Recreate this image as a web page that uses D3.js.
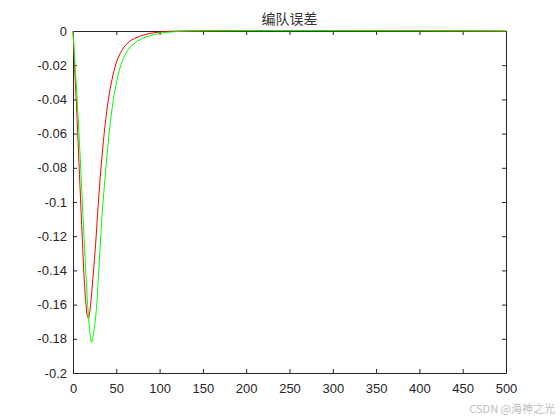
<!DOCTYPE html>
<html>
<head>
<meta charset="utf-8">
<script src="https://cdn.jsdelivr.net/npm/d3@7"></script>
<style>
  body { margin: 0; background: #fff; }
  svg { display: block; }
  .axis text { font-family: "Liberation Sans", Arial, sans-serif; font-size: 13px; fill: #262626; }
  .axis path, .axis line { stroke: #262626; }
</style>
</head>
<body>
<div id="chart"></div>
<script>
// tick values
var xTicks = [0, 50, 100, 150, 200, 250, 300, 350, 400, 450, 500];
var yTicks = [0, -0.02, -0.04, -0.06, -0.08, -0.1, -0.12, -0.14, -0.16, -0.18, -0.2];

// red curve
var redT = [0, 2, 4.6, 6.9, 9.2, 10.8, 12.7, 15, 16.5, 17.8, 19, 20.5, 23.1, 26.2, 28.5, 32.5, 36, 40, 44, 48, 52, 58, 65.5, 77, 90, 105, 125, 500];
var redV = [0, -0.022, -0.05, -0.077, -0.104, -0.122, -0.143, -0.16, -0.1665, -0.168, -0.1655, -0.159, -0.144, -0.124, -0.106, -0.079, -0.06, -0.043, -0.031, -0.022, -0.0158, -0.01, -0.006, -0.0031, -0.0013, -0.0004, 0, 0];

// green curve
var greenT = [0, 3, 6, 9, 11.5, 13.5, 15, 17, 19, 20.5, 21.6, 24, 27, 29.3, 31.6, 33.8, 38, 41.5, 45.5, 49.5, 53.5, 58, 65, 74, 86.6, 101, 118, 140, 500];
var greenV = [0, -0.025, -0.051, -0.081, -0.108, -0.128, -0.143, -0.161, -0.174, -0.18, -0.182, -0.176, -0.163, -0.144, -0.124, -0.106, -0.08, -0.061, -0.044, -0.032, -0.023, -0.0162, -0.01, -0.006, -0.0031, -0.0013, -0.0004, 0, 0];

var W = 560, H = 420;
var mLeft = 73, mRight = 506, mTop = 31, mBottom = 373;

var svg = d3.select('#chart').append('svg').attr('width', W).attr('height', H);

var x = d3.scaleLinear().domain([0, 500]).range([mLeft, mRight]);
var y = d3.scaleLinear().domain([-0.2, 0]).range([mBottom, mTop]);

var fmt = function(v){ return String(+v.toFixed(2)); };

// axes, ticks pointing inward like matlab
svg.append('g').attr('class', 'axis')
  .attr('transform', 'translate(0,' + mBottom + ')')
  .call(d3.axisBottom(x).tickValues(xTicks).tickFormat(fmt).tickSizeInner(-4).tickSizeOuter(0).tickPadding(11));
svg.append('g').attr('class', 'axis')
  .attr('transform', 'translate(0,' + mTop + ')')
  .call(d3.axisTop(x).tickValues(xTicks).tickFormat('').tickSizeInner(-4).tickSizeOuter(0));
svg.append('g').attr('class', 'axis')
  .attr('transform', 'translate(' + mLeft + ',0)')
  .call(d3.axisLeft(y).tickValues(yTicks).tickFormat(fmt).tickSizeInner(-4).tickSizeOuter(0).tickPadding(6));
svg.append('g').attr('class', 'axis')
  .attr('transform', 'translate(' + mRight + ',0)')
  .call(d3.axisRight(y).tickValues(yTicks).tickFormat('').tickSizeInner(-4).tickSizeOuter(0));

svg.selectAll('.axis').attr('font-family', null).attr('font-size', null);

var line = d3.line()
  .x(function(d){ return x(d[0]); })
  .y(function(d){ return y(Math.min(d[1], 0)); })
  .curve(d3.curveCatmullRom.alpha(0.5));

svg.append('path')
  .datum(d3.zip(redT, redV))
  .attr('d', line)
  .attr('fill', 'none')
  .attr('stroke', '#ff0000')
  .attr('stroke-width', 1);

svg.append('path')
  .datum(d3.zip(greenT, greenV))
  .attr('d', line)
  .attr('fill', 'none')
  .attr('stroke', '#00ff00')
  .attr('stroke-width', 1);

svg.append('text')
  .attr('x', (mLeft + mRight) / 2)
  .attr('y', 24)
  .attr('text-anchor', 'middle')
  .style('font-family', '"Noto Sans CJK SC", sans-serif')
  .style('font-size', '14px')
  .style('fill', '#333')
  .text('编队误差');

svg.append('text')
  .attr('x', 555)
  .attr('y', 413)
  .attr('text-anchor', 'end')
  .style('font-family', '"Noto Sans CJK SC", sans-serif')
  .style('font-size', '11px')
  .style('fill', '#c0c0c0')
  .text('CSDN @海神之光');
</script>
</body>
</html>
